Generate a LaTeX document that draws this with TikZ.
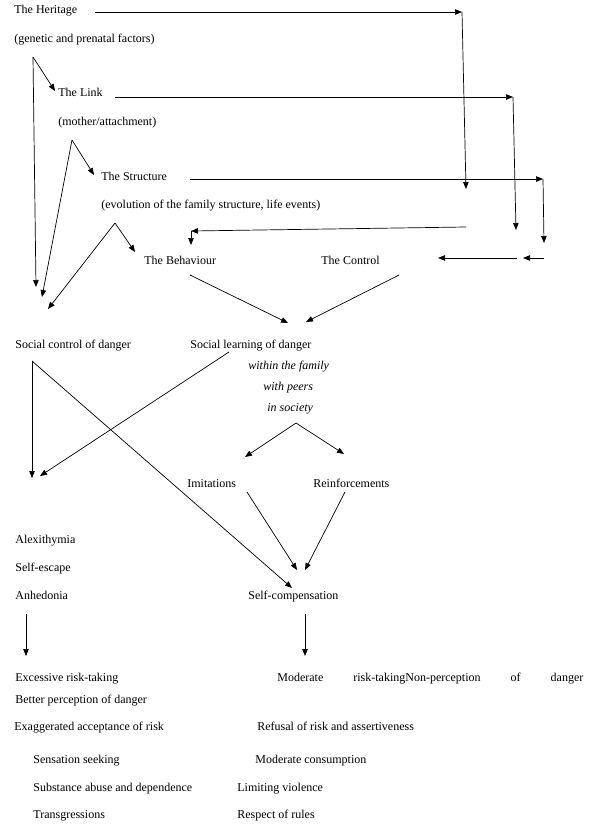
\documentclass[tikz,border=0pt]{standalone}
\usepackage{fontspec}
\setmainfont{Liberation Serif}
\usetikzlibrary{arrows.meta}
\begin{document}
\begin{tikzpicture}[x=1pt, y=-1pt, font=\fontsize{12}{14}\selectfont, line width=0.7pt, line join=round, >={Triangle[length=7pt,width=5.5pt]},
	lbl/.style={anchor=base west, inner sep=0pt}]
	\useasboundingbox (0,0) rectangle (600,830);
	\foreach \n/\x/\y/\t in {heritage/14/13/The Heritage, heritageb/14/42/(genetic and prenatal factors),
		link/58/96/The Link, linkb/58/125/{(mother/attachment)},
		structure/101/180/The Structure, structureb/101/208/{(evolution of the family structure, life events)},
		behaviour/144/264/The Behaviour, control/321/264/The Control,
		socctrl/15/348/Social control of danger, soclearn/190/348/Social learning of danger,
		imit/187/487/Imitations, reinf/313/487/Reinforcements,
		alex/15/543/Alexithymia, escape/15/571/Self-escape, anhed/15/599/Anhedonia, selfcomp/248/599/Self-compensation,
		excess/15/681/Excessive risk-taking, better/15/703/Better perception of danger,
		exagg/14/730/Exaggerated acceptance of risk, refusal/257/730/Refusal of risk and assertiveness,
		sensation/33/763/Sensation seeking, modcons/255/763/Moderate consumption,
		substance/33/791/Substance abuse and dependence, limiting/237/791/Limiting violence,
		transg/33/818/Transgressions, respect/237/818/Respect of rules}
	\node[lbl] (\n) at (\x,\y) {\t};
	\foreach \n/\x/\y/\t in {family/248/369/within the family, peers/263/390/with peers, society/267/411/in society}
	\node[lbl, font=\fontsize{12}{14}\selectfont\itshape] (\n) at (\x,\y) {\t};
	\node[lbl] (moderate) at (277,681) {\makebox[306pt][s]{Moderate risk-takingNon-perception of danger}};
	
	\path 
	(95,12) coordinate (H1) (462,12) coordinate (H2) (466,189) coordinate (H3)
	(115,97) coordinate (L1) (513,97) coordinate (L2) (516,230) coordinate (L3)
	(190,179) coordinate (S1) (543,179) coordinate (S2) (544,243) coordinate (S3)
	(517,258) coordinate (C1) (438,258) coordinate (C2) (544,258) coordinate (C3) (523,258) coordinate (C4)
	(466,227) coordinate (R1) (191,231) coordinate (R2) (191,245) coordinate (R3)
	(33,57) coordinate (HV) (55,91) coordinate (HA) (36,287) coordinate (HB)
	(72,140) coordinate (LV) (94,175) coordinate (LA) (42,297) coordinate (LB)
	(115,223) coordinate (SV) (135,252) coordinate (SA) (48,309) coordinate (SB)
	(190,275) coordinate (B1) (288,323) coordinate (B2)
	(399,275) coordinate (K1) (306,322) coordinate (K2)
	(32,361) coordinate (CV) (32,478) coordinate (CA) (292,588) coordinate (CB)
	(229,352) coordinate (G1) (40,476) coordinate (G2)
	(296,423) coordinate (YV) (245,457) coordinate (YA) (344,454) coordinate (YB)
	(247,492) coordinate (I1) (297,570) coordinate (I2)
	(345,492) coordinate (F1) (305,570) coordinate (F2)
	(26,614) coordinate (A1) (26,656) coordinate (A2)
	(305,614) coordinate (P1) (305,656) coordinate (P2)
	;
	% long feedback lines
	\draw[->] (H1)--(H2);
	\draw[->] (H2)--(H3);
	\draw[->] (L1)--(L2);
	\draw[->] (L2)--(L3);
	\draw[->] (S1)--(S2);
	\draw[->] (S2)--(S3);
	\draw[->] (C1)--(C2);
	\draw[->] (C3)--(C4);
	\draw[->] (R1)--(R2);
	\draw[->] (R2)--(R3);
	% forks
	\foreach \v/\a/\b in {HV/HA/HB, LV/LA/LB, SV/SA/SB, CV/CA/CB, YV/YA/YB}{
		\draw[->] (\v)--(\a);
		\draw[->] (\v)--(\b);
	}
	\foreach \s/\e in {B1/B2, K1/K2, G1/G2, I1/I2, F1/F2, A1/A2, P1/P2}
	\draw[->] (\s)--(\e);
\end{tikzpicture}
\end{document}
